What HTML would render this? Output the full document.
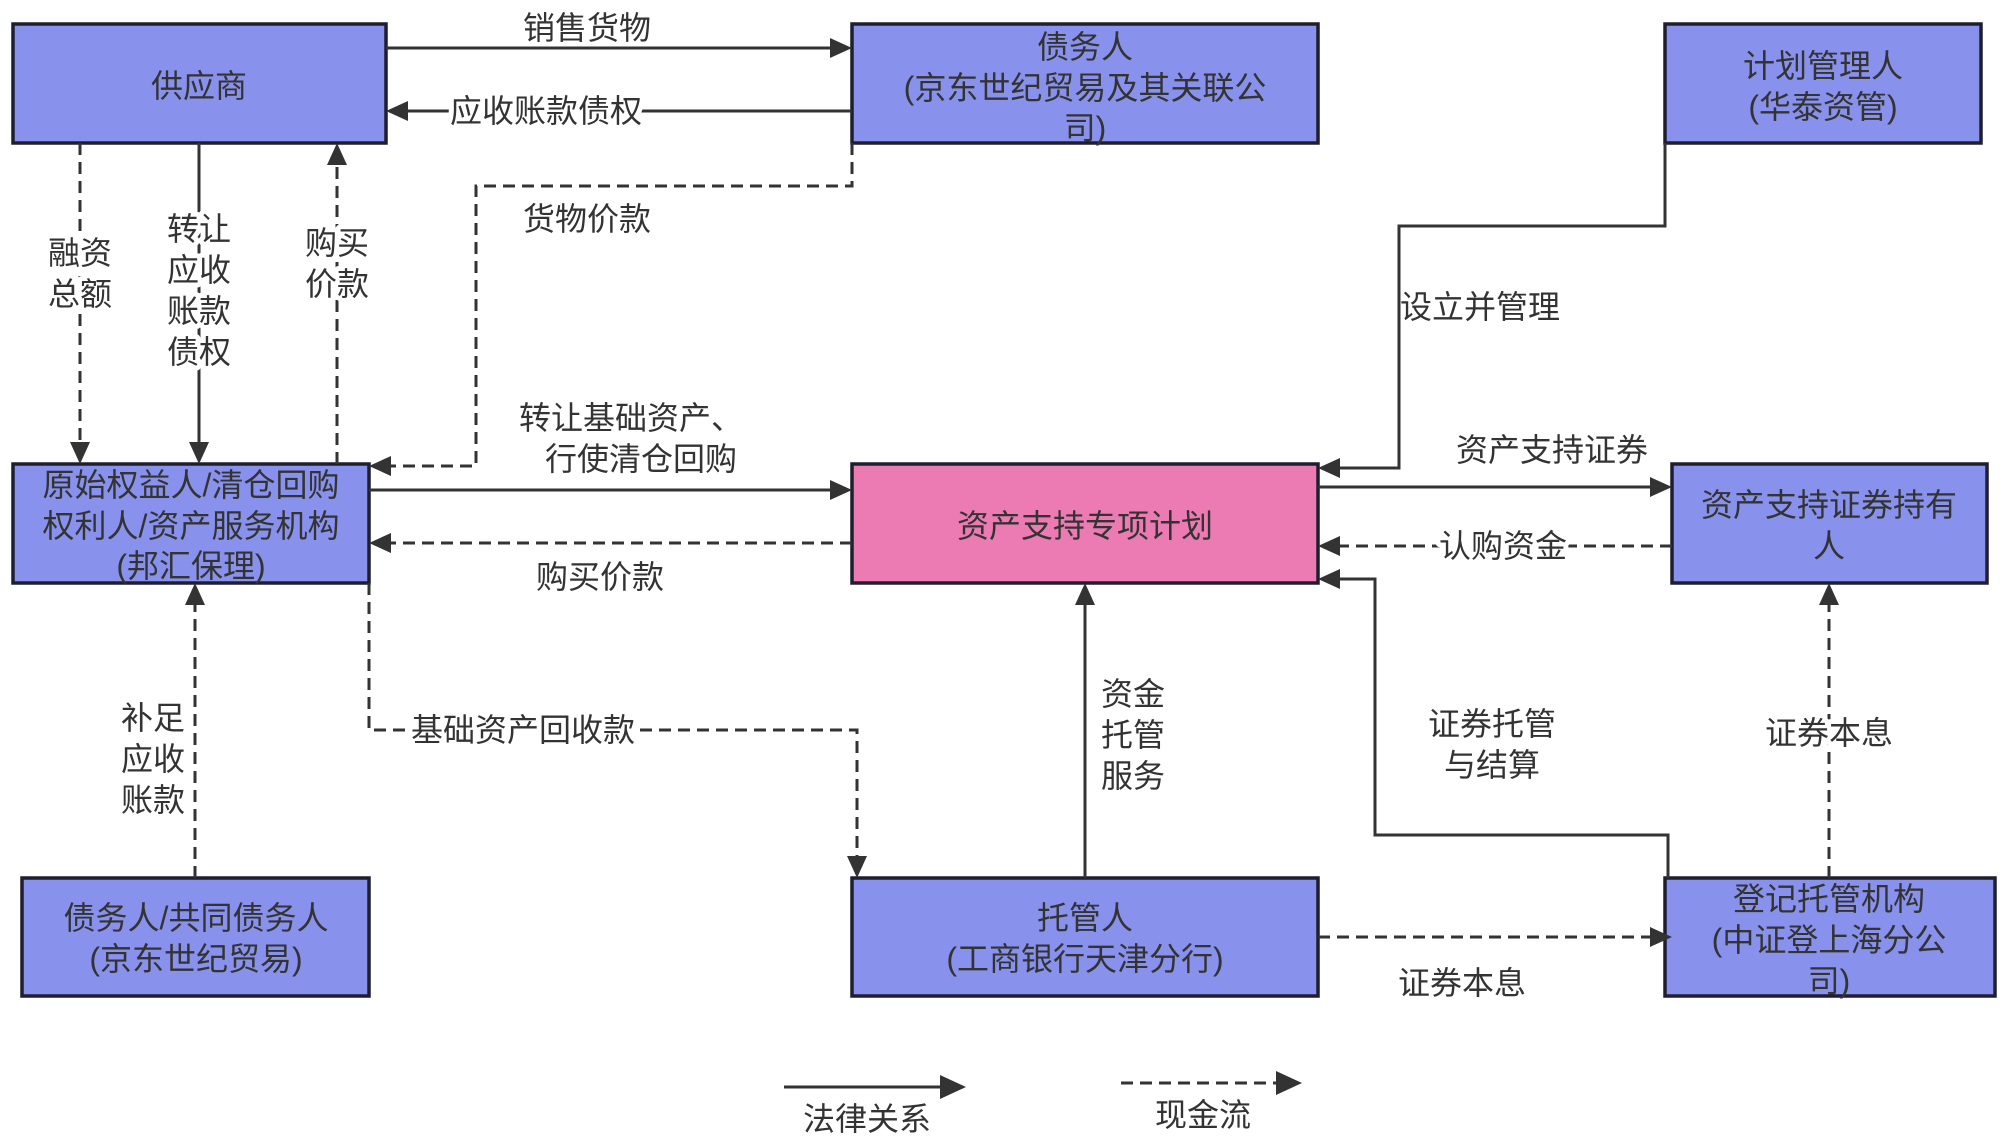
<!DOCTYPE html>
<html><head><meta charset="utf-8"><style>
html,body{margin:0;padding:0;background:#fff;}
svg{display:block;}
text{font-family:"Liberation Sans","Noto Sans CJK SC",sans-serif;font-size:32px;fill:#333;text-anchor:middle;dominant-baseline:central;}
.bg{stroke:#fff;stroke-width:10px;paint-order:stroke;stroke-linejoin:round;}
.box{fill:#8891ec;stroke:#1e1e2e;stroke-width:3.5;}
.s{fill:none;stroke:#333;stroke-width:3;}
.d{fill:none;stroke:#333;stroke-width:3;stroke-dasharray:12,7;}
</style></head><body>
<svg width="2000" height="1145" viewBox="0 0 2000 1145" xmlns="http://www.w3.org/2000/svg">
<defs>
<marker id="a" markerWidth="10" markerHeight="10" refX="9" refY="5" orient="auto" markerUnits="userSpaceOnUse" viewBox="0 0 10 10">
</marker>
</defs>
<!-- boxes -->
<rect class="box" x="13" y="24" width="373" height="119"/>
<rect class="box" x="852" y="24" width="466" height="119"/>
<rect class="box" x="1665" y="24" width="316" height="119"/>
<rect class="box" x="13" y="464" width="356" height="119"/>
<rect x="852" y="464" width="466" height="119" fill="#ec7ab3" stroke="#1e1e2e" stroke-width="3.5"/>
<rect class="box" x="1672" y="464" width="315" height="119"/>
<rect class="box" x="22" y="878" width="347" height="118"/>
<rect class="box" x="852" y="878" width="466" height="118"/>
<rect class="box" x="1665" y="878" width="330" height="118"/>

<!-- connectors -->
<path class="s" d="M386 48 H832"/><polygon points="852,48 830,38 830,58" fill="#333"/>
<path class="s" d="M852 111 H406"/><polygon points="386,111 408,101 408,121" fill="#333"/>
<path class="d" d="M852 143 V186 H476 V466 H389"/><polygon points="369,466 391,456 391,476" fill="#333"/>
<path class="d" d="M80 143 V444"/><polygon points="80,464 70,442 90,442" fill="#333"/>
<path class="s" d="M199 143 V444"/><polygon points="199,464 189,442 209,442" fill="#333"/>
<path class="d" d="M337 464 V163"/><polygon points="337,143 327,165 347,165" fill="#333"/>
<path class="s" d="M369 490 H832"/><polygon points="852,490 830,480 830,500" fill="#333"/>
<path class="d" d="M852 543 H389"/><polygon points="369,543 391,533 391,553" fill="#333"/>
<path class="s" d="M1665 143 V226 H1399 V468 H1338"/><polygon points="1318,468 1340,458 1340,478" fill="#333"/>
<path class="s" d="M1318 487 H1652"/><polygon points="1672,487 1650,477 1650,497" fill="#333"/>
<path class="d" d="M1672 546 H1338"/><polygon points="1318,546 1340,536 1340,556" fill="#333"/>
<path class="s" d="M1668 878 V835 H1375 V579 H1338"/><polygon points="1318,579 1340,569 1340,589" fill="#333"/>
<path class="s" d="M1085 878 V603"/><polygon points="1085,583 1075,605 1095,605" fill="#333"/>
<path class="d" d="M1829 878 V603"/><polygon points="1829,583 1819,605 1839,605" fill="#333"/>
<path class="d" d="M195 878 V603"/><polygon points="195,583 185,605 205,605" fill="#333"/>
<path class="d" d="M369 583 V730 H857 V858"/><polygon points="857,878 847,856 867,856" fill="#333"/>
<path class="d" d="M1318 937 H1652"/><polygon points="1672,937 1650,927 1650,947" fill="#333"/>
<!-- legend -->
<path class="s" d="M784 1087 H944" stroke-width="4"/><polygon points="966,1087 940,1075 940,1099" fill="#333"/>
<path class="d" d="M1121 1083 H1280" stroke-width="4"/><polygon points="1302,1083 1276,1071 1276,1095" fill="#333"/>
<text x="867" y="1119">法律关系</text>
<text x="1203" y="1115">现金流</text>

<!-- box text -->
<text x="199" y="86">供应商</text>
<text x="1085" y="47">债务人</text>
<text x="1085" y="88">(京东世纪贸易及其关联公</text>
<text x="1085" y="128">司)</text>
<text x="1823" y="66">计划管理人</text>
<text x="1823" y="107">(华泰资管)</text>
<text x="191" y="485">原始权益人/清仓回购</text>
<text x="191" y="526">权利人/资产服务机构</text>
<text x="191" y="566">(邦汇保理)</text>
<text x="1085" y="526">资产支持专项计划</text>
<text x="1829" y="505">资产支持证券持有</text>
<text x="1829" y="546">人</text>
<text x="196" y="918">债务人/共同债务人</text>
<text x="196" y="959">(京东世纪贸易)</text>
<text x="1085" y="918">托管人</text>
<text x="1085" y="959">(工商银行天津分行)</text>
<text x="1829" y="899">登记托管机构</text>
<text x="1829" y="940">(中证登上海分公</text>
<text x="1829" y="981">司)</text>

<!-- edge labels -->
<text x="587" y="28">销售货物</text>
<text class="bg" x="546" y="111">应收账款债权</text>
<text x="587" y="219">货物价款</text>
<text class="bg" x="80" y="253">融资</text>
<text class="bg" x="80" y="294">总额</text>
<text class="bg" x="199" y="229">转让</text>
<text class="bg" x="199" y="270">应收</text>
<text class="bg" x="199" y="311">账款</text>
<text class="bg" x="199" y="352">债权</text>
<text class="bg" x="337" y="243">购买</text>
<text class="bg" x="337" y="284">价款</text>
<text x="631" y="418">转让基础资产、</text>
<text x="641" y="459">行使清仓回购</text>
<text x="600" y="577">购买价款</text>
<text x="1480" y="307">设立并管理</text>
<text x="1552" y="450">资产支持证券</text>
<text class="bg" x="1503" y="546">认购资金</text>
<text x="1492" y="724">证券托管</text>
<text x="1492" y="765">与结算</text>
<text x="1133" y="694">资金</text>
<text x="1133" y="735">托管</text>
<text x="1133" y="776">服务</text>
<text class="bg" x="1829" y="733">证券本息</text>
<text class="bg" x="153" y="718">补足</text>
<text class="bg" x="153" y="759">应收</text>
<text class="bg" x="153" y="800">账款</text>
<text class="bg" x="523" y="730">基础资产回收款</text>
<text x="1462" y="983">证券本息</text>
</svg>
</body></html>
